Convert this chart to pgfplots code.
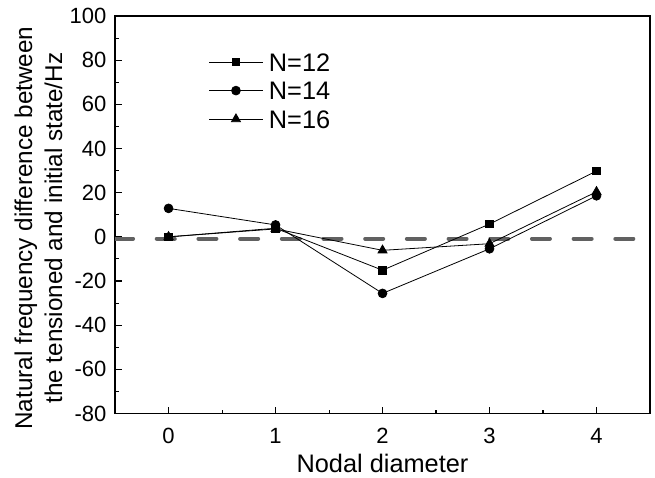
\documentclass[border=0pt]{standalone}
\usepackage{pgfplots}
\pgfplotsset{compat=1.18}
\usepackage{fontspec}
\setmainfont{Liberation Sans}
\begin{document}
\fontsize{19}{20}\selectfont
\begin{tikzpicture}
\begin{axis}[
  scale only axis,
  width=401pt, height=298pt,
  xmin=-0.5, xmax=4.5,
  ymin=-80, ymax=100,
  xtick={0,1,2,3,4},
  minor xtick={-0.5,0.5,1.5,2.5,3.5,4.5},
  ytick={-80,-60,...,100},
  minor ytick={-70,-50,...,90},
  xtick pos=left, ytick pos=left,
  tick align=inside,
  major tick length=5pt, minor tick length=3pt,
  every tick/.style={black, line width=0.8pt},
  axis line style={line width=1pt},
  /pgf/number format/assume math mode=true,
  ticklabel style={font=\fontsize{16.5}{18}\selectfont},
  xticklabel style={yshift=-4.5pt},
  xlabel={Nodal diameter},
  ylabel={Natural frequency difference between\\the tensioned and initial state/Hz},
  xlabel style={font=\fontsize{19}{20}\selectfont, at={(axis description cs:0.5,0)}, anchor=base, yshift=-44.25pt},
  ylabel style={font=\fontsize{18.2}{22.5}\selectfont, align=center, at={(axis description cs:0,0.5)}, anchor=center, yshift=57.5pt, xshift=-10pt},
  legend style={draw=none, fill=none, at={(axis cs:0.378,83.5)}, anchor=north west,
    font=\fontsize{19}{20}\selectfont, row sep=0pt, column sep=4.5pt, inner sep=0pt, outer sep=0pt,
    nodes={inner sep=0pt, text height=14pt, text depth=7.4pt}},
  legend cell align=left,
  legend image code/.code={\draw[mark repeat=2,mark phase=2] plot coordinates {(0cm,3.5pt) (0.7cm,3.5pt) (1.4cm,3.5pt)};},
]
\addplot[forget plot, line width=3pt, color=black!62, dash pattern=on 13.5pt off 17.75pt, line cap=round]
  coordinates {(-0.5,-0.8) (4.5,-0.8)};
\addplot[black, line width=0.6pt, mark=square*, mark size=2.8pt]
  coordinates {(0,0) (1,3.9) (2,-15.1) (3,5.8) (4,29.8)};
\addlegendentry{N=12}
\addplot[black, line width=0.6pt, mark=*, mark size=3.3pt]
  coordinates {(0,12.9) (1,5.4) (2,-25.6) (3,-5.4) (4,18.6)};
\addlegendentry{N=14}
\addplot[black, line width=0.6pt, mark=triangle*, mark size=3.9pt]
  coordinates {(0,0) (1,3.6) (2,-6.1) (3,-3.1) (4,20.4)};
\addlegendentry{N=16}
\end{axis}
\pgfresetboundingbox
\path (current axis.south west) ++(-86.25pt,-48pt) coordinate (bl);
\path (current axis.north east) ++(3.75pt,12pt) coordinate (tr);
\path (bl) rectangle (tr);
\end{tikzpicture}
\end{document}
